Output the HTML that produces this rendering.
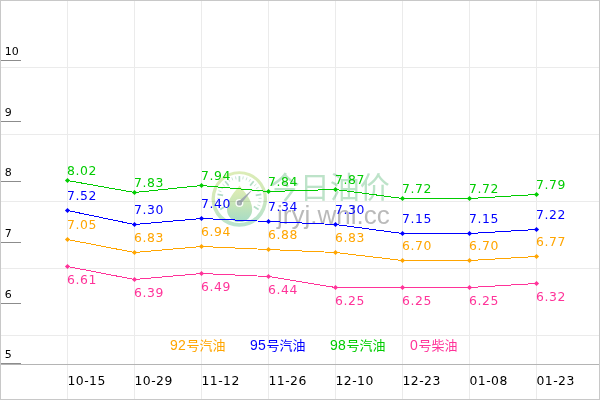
<!DOCTYPE html>
<html lang="zh"><head><meta charset="utf-8"><title>今日油价</title>
<style>
html,body{margin:0;padding:0;background:#fff}
svg{display:block}
text{font-family:"DejaVu Sans","Liberation Sans",sans-serif;font-size:12.4px}
.cj{font-family:"Liberation Sans","Noto Sans CJK SC",sans-serif}
</style></head><body>
<svg width="600" height="400" viewBox="0 0 600 400">
<rect width="600" height="400" fill="#fff"/>
<g id="wm">
<defs>
<linearGradient id="dg" x1="0" y1="0" x2="0" y2="1"><stop offset="0" stop-color="#e4eeb4"/><stop offset="0.55" stop-color="#c3e4b8"/><stop offset="1" stop-color="#a6dcc6"/></linearGradient>
<linearGradient id="rg" x1="0" y1="0" x2="0.15" y2="1"><stop offset="0" stop-color="#deedb6"/><stop offset="0.5" stop-color="#d2e9b9"/><stop offset="1" stop-color="#b9e3cd"/></linearGradient>
</defs>
<path fill-rule="evenodd" fill="url(#rg)" d="M211.5 199a27.8 27.8 0 1 0 55.6 0a27.8 27.8 0 1 0 -55.6 0ZM214.9 198.5a24.4 24.4 0 1 0 48.8 0a24.4 24.4 0 1 0 -48.8 0Z"/>
<path d="M239.5 185.6C243.7 191.2 252.2 199.3 252.2 209.5A12.6 12.6 0 0 1 227 209.5C227 199.3 235.3 191.2 239.5 185.6Z" fill="url(#dg)"/>
<g stroke="#b3dcc6" fill="none" stroke-linecap="butt">
<line x1="225.0" y1="206.6" x2="220.2" y2="209.4" stroke-width="1.7" stroke-opacity="1"/>
<line x1="221.4" y1="204.9" x2="218.5" y2="205.9" stroke-width="1.0" stroke-opacity="0.75"/>
<line x1="220.5" y1="201.6" x2="217.5" y2="202.2" stroke-width="1.0" stroke-opacity="0.75"/>
<line x1="220.2" y1="198.3" x2="217.2" y2="198.3" stroke-width="1.0" stroke-opacity="0.75"/>
<line x1="223.1" y1="195.4" x2="217.5" y2="194.4" stroke-width="1.7" stroke-opacity="1"/>
<line x1="221.4" y1="191.7" x2="218.5" y2="190.7" stroke-width="1.0" stroke-opacity="0.75"/>
<line x1="222.8" y1="188.7" x2="220.2" y2="187.2" stroke-width="1.0" stroke-opacity="0.75"/>
<line x1="224.7" y1="186.0" x2="222.4" y2="184.0" stroke-width="1.0" stroke-opacity="0.75"/>
<line x1="228.7" y1="185.6" x2="225.1" y2="181.3" stroke-width="1.7" stroke-opacity="1"/>
<line x1="229.8" y1="181.7" x2="228.3" y2="179.1" stroke-width="1.0" stroke-opacity="0.75"/>
<line x1="232.8" y1="180.3" x2="231.8" y2="177.4" stroke-width="1.0" stroke-opacity="0.75"/>
<line x1="236.1" y1="179.4" x2="235.5" y2="176.4" stroke-width="1.0" stroke-opacity="0.75"/>
<line x1="239.4" y1="181.7" x2="239.4" y2="176.1" stroke-width="1.7" stroke-opacity="1"/>
<line x1="242.7" y1="179.4" x2="243.3" y2="176.4" stroke-width="1.0" stroke-opacity="0.75"/>
<line x1="246.0" y1="180.3" x2="247.0" y2="177.4" stroke-width="1.0" stroke-opacity="0.75"/>
<line x1="249.0" y1="181.7" x2="250.5" y2="179.1" stroke-width="1.0" stroke-opacity="0.75"/>
<line x1="250.1" y1="185.6" x2="253.7" y2="181.3" stroke-width="1.7" stroke-opacity="1"/>
<line x1="254.1" y1="186.0" x2="256.4" y2="184.0" stroke-width="1.0" stroke-opacity="0.75"/>
<line x1="256.0" y1="188.7" x2="258.6" y2="187.2" stroke-width="1.0" stroke-opacity="0.75"/>
<line x1="257.4" y1="191.7" x2="260.3" y2="190.7" stroke-width="1.0" stroke-opacity="0.75"/>
<line x1="255.7" y1="195.4" x2="261.3" y2="194.4" stroke-width="1.7" stroke-opacity="1"/>
<line x1="258.6" y1="198.3" x2="261.6" y2="198.3" stroke-width="1.0" stroke-opacity="0.75"/>
<line x1="258.3" y1="201.6" x2="261.3" y2="202.2" stroke-width="1.0" stroke-opacity="0.75"/>
<line x1="257.4" y1="204.9" x2="260.3" y2="205.9" stroke-width="1.0" stroke-opacity="0.75"/>
<line x1="253.8" y1="206.6" x2="258.6" y2="209.4" stroke-width="1.7" stroke-opacity="1"/>
</g>
<circle cx="239.4" cy="202.9" r="4" fill="#fff" fill-opacity="0.9"/>
<path d="M238.2 201.8L253.2 188.8L240.6 204.2Z" fill="#a0a9ae"/>
<circle cx="239.4" cy="202.9" r="2.6" fill="#a0a9ae"/><circle cx="239.3" cy="203" r="1" fill="#b4bfc0"/>
<text class="cj" x="269.8" y="198" style="font-size:30px" fill="#bde3c9">今日油价</text>
<text x="277" y="223.5" style="font-family:'Liberation Sans',sans-serif;font-size:26px" fill="#bababa">jryj.wnl.cc</text>
</g>
<g shape-rendering="crispEdges" stroke="#ebebeb" stroke-width="1" style="mix-blend-mode:multiply">
<line x1="67.5" y1="0" x2="67.5" y2="400"/>
<line x1="134.5" y1="0" x2="134.5" y2="400"/>
<line x1="201.5" y1="0" x2="201.5" y2="400"/>
<line x1="268.5" y1="0" x2="268.5" y2="400"/>
<line x1="335.5" y1="0" x2="335.5" y2="400"/>
<line x1="402.5" y1="0" x2="402.5" y2="400"/>
<line x1="469.5" y1="0" x2="469.5" y2="400"/>
<line x1="536.5" y1="0" x2="536.5" y2="400"/>
<line x1="0" y1="67.5" x2="600" y2="67.5"/>
<line x1="0" y1="134.5" x2="600" y2="134.5"/>
<line x1="0" y1="201.5" x2="600" y2="201.5"/>
<line x1="0" y1="268.5" x2="600" y2="268.5"/>
<line x1="0" y1="335.5" x2="600" y2="335.5"/>
</g>
<g shape-rendering="crispEdges">
<line x1="0" y1="364.5" x2="600" y2="364.5" stroke="#b4b4b4"/>
<line x1="1" y1="363.5" x2="21" y2="363.5" stroke="#8c8c8c"/>
<line x1="1" y1="303.5" x2="21" y2="303.5" stroke="#8c8c8c"/>
<line x1="1" y1="242.5" x2="21" y2="242.5" stroke="#8c8c8c"/>
<line x1="1" y1="181.5" x2="21" y2="181.5" stroke="#8c8c8c"/>
<line x1="1" y1="121.5" x2="21" y2="121.5" stroke="#8c8c8c"/>
<line x1="1" y1="60.5" x2="21" y2="60.5" stroke="#8c8c8c"/>
</g>
<text x="4.8" y="358" fill="#000" style="font-size:11px">5</text>
<text x="4.8" y="298" fill="#000" style="font-size:11px">6</text>
<text x="4.8" y="237" fill="#000" style="font-size:11px">7</text>
<text x="4.8" y="176" fill="#000" style="font-size:11px">8</text>
<text x="4.8" y="116" fill="#000" style="font-size:11px">9</text>
<text x="4.8" y="55" fill="#000" style="font-size:11px">10</text>
<text x="67.5" y="385" fill="#000" textLength="37.8">10-15</text>
<text x="134.5" y="385" fill="#000" textLength="37.8">10-29</text>
<text x="201.5" y="385" fill="#000" textLength="37.8">11-12</text>
<text x="268.5" y="385" fill="#000" textLength="37.8">11-26</text>
<text x="335.5" y="385" fill="#000" textLength="37.8">12-10</text>
<text x="402.5" y="385" fill="#000" textLength="37.8">12-23</text>
<text x="469.5" y="385" fill="#000" textLength="37.8">01-08</text>
<text x="536.5" y="385" fill="#000" textLength="37.8">01-23</text>
<text class="cj" x="170" y="350" fill="#ffa500"><tspan style="font-size:14px" x="170.1">92</tspan><tspan style="font-size:13px" x="186.6" dy="-0.5">号汽油</tspan></text>
<text class="cj" x="250" y="350" fill="#0000ff"><tspan style="font-size:14px" x="250.1">95</tspan><tspan style="font-size:13px" x="266.6" dy="-0.5">号汽油</tspan></text>
<text class="cj" x="330" y="350" fill="#00cc00"><tspan style="font-size:14px" x="330.1">98</tspan><tspan style="font-size:13px" x="346.6" dy="-0.5">号汽油</tspan></text>
<text class="cj" x="410" y="350" fill="#ff3399"><tspan style="font-size:14px" x="410.1">0</tspan><tspan style="font-size:13px" x="418.6" dy="-0.5">号柴油</tspan></text>
<polyline points="67.5,180.5 134.5,192.5 201.5,185.5 268.5,191.5 335.5,189.5 402.5,198.5 469.5,198.5 536.5,194.5" fill="none" stroke="#00cc00" stroke-width="1" shape-rendering="crispEdges"/>
<path d="M64.95 180.5L67.5 177.9L70.05 180.5L67.5 183.1Z" fill="#00cc00"/><path d="M131.95 192.5L134.5 189.9L137.05 192.5L134.5 195.1Z" fill="#00cc00"/><path d="M198.95 185.5L201.5 182.9L204.05 185.5L201.5 188.1Z" fill="#00cc00"/><path d="M265.95 191.5L268.5 188.9L271.05 191.5L268.5 194.1Z" fill="#00cc00"/><path d="M332.95 189.5L335.5 186.9L338.05 189.5L335.5 192.1Z" fill="#00cc00"/><path d="M399.95 198.5L402.5 195.9L405.05 198.5L402.5 201.1Z" fill="#00cc00"/><path d="M466.95 198.5L469.5 195.9L472.05 198.5L469.5 201.1Z" fill="#00cc00"/><path d="M533.95 194.5L536.5 191.9L539.05 194.5L536.5 197.1Z" fill="#00cc00"/>
<text x="67" y="175.0" fill="#00cc00" textLength="29.4">8.02</text><text x="134" y="187.0" fill="#00cc00" textLength="29.4">7.83</text><text x="201" y="180.0" fill="#00cc00" textLength="29.4">7.94</text><text x="268" y="186.0" fill="#00cc00" textLength="29.4">7.84</text><text x="335" y="184.0" fill="#00cc00" textLength="29.4">7.87</text><text x="402" y="193.0" fill="#00cc00" textLength="29.4">7.72</text><text x="469" y="193.0" fill="#00cc00" textLength="29.4">7.72</text><text x="536" y="189.0" fill="#00cc00" textLength="29.4">7.79</text>
<polyline points="67.5,210.5 134.5,224.5 201.5,218.5 268.5,221.5 335.5,224.5 402.5,233.5 469.5,233.5 536.5,229.5" fill="none" stroke="#0000ff" stroke-width="1" shape-rendering="crispEdges"/>
<path d="M64.95 210.5L67.5 207.9L70.05 210.5L67.5 213.1Z" fill="#0000ff"/><path d="M131.95 224.5L134.5 221.9L137.05 224.5L134.5 227.1Z" fill="#0000ff"/><path d="M198.95 218.5L201.5 215.9L204.05 218.5L201.5 221.1Z" fill="#0000ff"/><path d="M265.95 221.5L268.5 218.9L271.05 221.5L268.5 224.1Z" fill="#0000ff"/><path d="M332.95 224.5L335.5 221.9L338.05 224.5L335.5 227.1Z" fill="#0000ff"/><path d="M399.95 233.5L402.5 230.9L405.05 233.5L402.5 236.1Z" fill="#0000ff"/><path d="M466.95 233.5L469.5 230.9L472.05 233.5L469.5 236.1Z" fill="#0000ff"/><path d="M533.95 229.5L536.5 226.9L539.05 229.5L536.5 232.1Z" fill="#0000ff"/>
<text x="67" y="200.0" fill="#0000ff" textLength="29.4">7.52</text><text x="134" y="214.0" fill="#0000ff" textLength="29.4">7.30</text><text x="201" y="208.0" fill="#0000ff" textLength="29.4">7.40</text><text x="268" y="211.0" fill="#0000ff" textLength="29.4">7.34</text><text x="335" y="214.0" fill="#0000ff" textLength="29.4">7.30</text><text x="402" y="223.0" fill="#0000ff" textLength="29.4">7.15</text><text x="469" y="223.0" fill="#0000ff" textLength="29.4">7.15</text><text x="536" y="219.0" fill="#0000ff" textLength="29.4">7.22</text>
<polyline points="67.5,239.5 134.5,252.5 201.5,246.5 268.5,249.5 335.5,252.5 402.5,260.5 469.5,260.5 536.5,256.5" fill="none" stroke="#ffa500" stroke-width="1" shape-rendering="crispEdges"/>
<path d="M64.95 239.5L67.5 236.9L70.05 239.5L67.5 242.1Z" fill="#ffa500"/><path d="M131.95 252.5L134.5 249.9L137.05 252.5L134.5 255.1Z" fill="#ffa500"/><path d="M198.95 246.5L201.5 243.9L204.05 246.5L201.5 249.1Z" fill="#ffa500"/><path d="M265.95 249.5L268.5 246.9L271.05 249.5L268.5 252.1Z" fill="#ffa500"/><path d="M332.95 252.5L335.5 249.9L338.05 252.5L335.5 255.1Z" fill="#ffa500"/><path d="M399.95 260.5L402.5 257.9L405.05 260.5L402.5 263.1Z" fill="#ffa500"/><path d="M466.95 260.5L469.5 257.9L472.05 260.5L469.5 263.1Z" fill="#ffa500"/><path d="M533.95 256.5L536.5 253.9L539.05 256.5L536.5 259.1Z" fill="#ffa500"/>
<text x="67" y="229.0" fill="#ffa500" textLength="29.4">7.05</text><text x="134" y="242.0" fill="#ffa500" textLength="29.4">6.83</text><text x="201" y="236.0" fill="#ffa500" textLength="29.4">6.94</text><text x="268" y="239.0" fill="#ffa500" textLength="29.4">6.88</text><text x="335" y="242.0" fill="#ffa500" textLength="29.4">6.83</text><text x="402" y="250.0" fill="#ffa500" textLength="29.4">6.70</text><text x="469" y="250.0" fill="#ffa500" textLength="29.4">6.70</text><text x="536" y="246.0" fill="#ffa500" textLength="29.4">6.77</text>
<polyline points="67.5,266.5 134.5,279.5 201.5,273.5 268.5,276.5 335.5,287.5 402.5,287.5 469.5,287.5 536.5,283.5" fill="none" stroke="#ff3399" stroke-width="1" shape-rendering="crispEdges"/>
<path d="M64.95 266.5L67.5 263.9L70.05 266.5L67.5 269.1Z" fill="#ff3399"/><path d="M131.95 279.5L134.5 276.9L137.05 279.5L134.5 282.1Z" fill="#ff3399"/><path d="M198.95 273.5L201.5 270.9L204.05 273.5L201.5 276.1Z" fill="#ff3399"/><path d="M265.95 276.5L268.5 273.9L271.05 276.5L268.5 279.1Z" fill="#ff3399"/><path d="M332.95 287.5L335.5 284.9L338.05 287.5L335.5 290.1Z" fill="#ff3399"/><path d="M399.95 287.5L402.5 284.9L405.05 287.5L402.5 290.1Z" fill="#ff3399"/><path d="M466.95 287.5L469.5 284.9L472.05 287.5L469.5 290.1Z" fill="#ff3399"/><path d="M533.95 283.5L536.5 280.9L539.05 283.5L536.5 286.1Z" fill="#ff3399"/>
<text x="67" y="284.0" fill="#ff3399" textLength="29.4">6.61</text><text x="134" y="297.0" fill="#ff3399" textLength="29.4">6.39</text><text x="201" y="291.0" fill="#ff3399" textLength="29.4">6.49</text><text x="268" y="294.0" fill="#ff3399" textLength="29.4">6.44</text><text x="335" y="305.0" fill="#ff3399" textLength="29.4">6.25</text><text x="402" y="305.0" fill="#ff3399" textLength="29.4">6.25</text><text x="469" y="305.0" fill="#ff3399" textLength="29.4">6.25</text><text x="536" y="301.0" fill="#ff3399" textLength="29.4">6.32</text>
<rect x="0.5" y="0.5" width="599" height="399" fill="none" stroke="#c8c8c8" shape-rendering="crispEdges"/>
</svg>
</body></html>
